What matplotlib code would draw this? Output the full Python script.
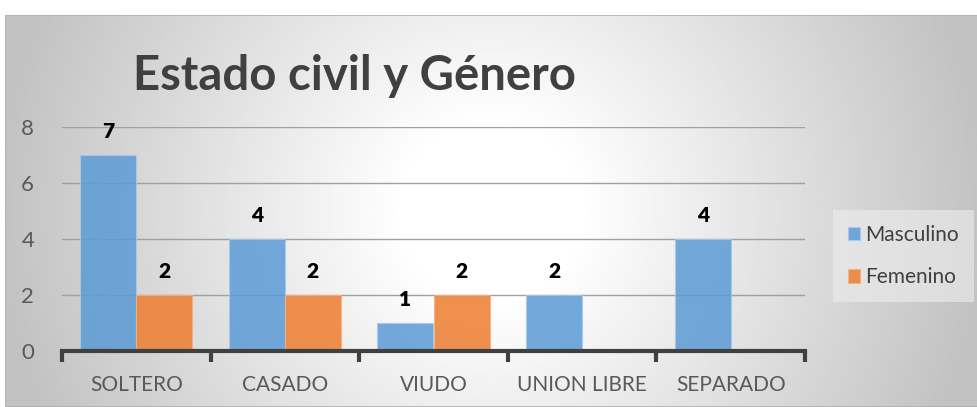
import numpy as np
import matplotlib.pyplot as plt
from matplotlib.patches import Rectangle

# Datos del gráfico
categorias = ["SOLTERO", "CASADO", "VIUDO", "UNION LIBRE", "SEPARADO"]
masculino = [7, 4, 1, 2, 4]
femenino = [2, 2, 2, 0, 0]
series = ["Masculino", "Femenino"]
yticks = [0, 2, 4, 6, 8]

W, H = 978, 407
fig = plt.figure(figsize=(W / 100, H / 100), dpi=100)
fig.patch.set_facecolor("white")

# Fondo con degradado radial (área del gráfico)
bx0, by1 = 5, 15
bg = fig.add_axes([bx0 / W, 0, 1 - bx0 / W, 1 - by1 / H], zorder=-2)
nx, ny = 400, 160
xx, yy = np.meshgrid(np.linspace(0, 1, nx), np.linspace(0, 1, ny))
aspect = (H - by1) / (W - bx0)
r = np.sqrt((xx - 0.5) ** 2 + ((yy - 0.5) * aspect) ** 2)
r = np.clip((r - 0.09) / 0.42, 0, 1)
gray = 1.0 - 0.24 * r
bg.imshow(gray, cmap="gray", vmin=0, vmax=1, aspect="auto", extent=[0, 1, 0, 1])
bg.add_patch(Rectangle((0, 0), 1, 1, transform=bg.transAxes, fill=False,
                       edgecolor="#b0b0b0", linewidth=1.2))
bg.set_axis_off()

# Área de trazado
left, right = 62 / W, 805 / W
bottom, top = 1 - 351 / H, 1 - 127 / H
ax = fig.add_axes([left, bottom, right - left, top - bottom])
ax.patch.set_alpha(0)

x = np.arange(len(categorias))
w = 0.377
b1 = ax.bar(x - w / 2, masculino, w, color="#5b9bd5", alpha=0.85,
            edgecolor="#a9c9ea", linewidth=0.8, label=series[0], zorder=2)
b2 = ax.bar(x + w / 2, femenino, w, color="#ed7d31", alpha=0.85,
            edgecolor="#f4b183", linewidth=0.8, label=series[1], zorder=2)

for bars, vals in [(b1, masculino), (b2, femenino)]:
    for rect, v in zip(bars, vals):
        if v == 0:
            continue
        ax.annotate(str(v), (rect.get_x() + rect.get_width() / 2, v),
                    xytext=(0, 17), textcoords="offset points",
                    ha="center", va="center", fontsize=15,
                    fontweight="heavy", color="black", family="Lato")

ax.set_xlim(-0.5, len(categorias) - 0.5)
ax.set_ylim(0, 8)
ax.set_yticks(yticks)
ax.set_yticklabels([str(t) for t in yticks])
ax.yaxis.grid(True, color="#a0a0a0", linewidth=1.0, zorder=0)
ax.set_axisbelow(True)

for s in ["left", "right", "top"]:
    ax.spines[s].set_visible(False)
ax.spines["bottom"].set_color("#404040")
ax.spines["bottom"].set_linewidth(3)

ax.set_xticks(np.arange(-0.5, len(categorias), 1.0))
ax.set_xticklabels([])
ax.set_xticks(x, minor=True)
ax.set_xticklabels(categorias, minor=True)
ax.tick_params(axis="x", which="major", direction="out", length=8, width=3,
               color="#404040")
ax.tick_params(axis="x", which="minor", length=0, pad=17, labelsize=15,
               labelcolor="#595959")
ax.tick_params(axis="y", length=0, pad=20, labelsize=16, labelcolor="#595959")
for lbl in ax.get_xticklabels(minor=True) + ax.get_yticklabels():
    lbl.set_family("Lato")

# Título
fig.text(355 / W, 1 - 76 / H, "Estado civil y Género", ha="center", va="center",
         fontsize=34, fontweight="bold", color="#404040", family="Lato")

# Leyenda
leg = fig.legend(handles=[b1, b2], labels=series, loc="center left",
                 bbox_to_anchor=(833 / W, 1 - 256 / H), frameon=True,
                 handlelength=0.6, handleheight=0.6,
                 handletextpad=0.25, labelspacing=1.1, borderpad=0.7,
                 borderaxespad=0, prop={"family": "Lato", "size": 15})
leg.get_frame().set_facecolor("#eeeeee")
leg.get_frame().set_edgecolor("none")
leg.get_frame().set_alpha(0.6)
leg.get_frame().set_boxstyle("square", pad=0)
for t in leg.get_texts():
    t.set_color("#404040")

fig.savefig("out.png", dpi=100)
